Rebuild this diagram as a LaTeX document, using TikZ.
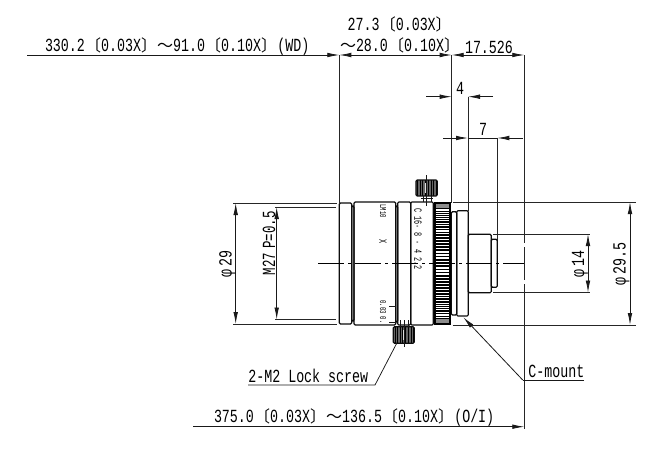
\documentclass[tikz,border=0pt]{standalone}
\usepackage{fontspec}
\usetikzlibrary{arrows.meta}
\newfontfamily\dimfam[FakeStretch=.72]{Liberation Mono}
\newfontfamily\dimnar[FakeStretch=.67]{Liberation Mono}
\newfontfamily\engfam[FakeStretch=.62]{Liberation Mono}
\newfontfamily\cjkf{Noto Sans CJK JP}
\newcommand\cj[1]{{\fontsize{16}{16}\cjkf #1}}
\newcommand\dimf{\fontsize{18.5}{18.5}\dimfam\spaceskip=.1pt\relax}
\newcommand\phif{\fontsize{18.5}{18.5}\dimfam\spaceskip=3pt\relax}
\newcommand\wordf{\fontsize{18.5}{18.5}\dimfam}
\newcommand\narf{\fontsize{18.5}{18.5}\dimnar\spaceskip=4pt\relax}
\newcommand\engA{\fontsize{11}{11}\engfam\spaceskip=4pt\relax}
\newcommand\engB{\fontsize{9}{9}\engfam\spaceskip=2pt\relax}
\tikzset{
  txt/.style={inner sep=0pt,outer sep=0pt,anchor=base west,font=\dimf},
  vtxt/.style={txt,rotate=90},
  eng/.style={inner sep=0pt,outer sep=0pt,rotate=-90,font=\engA},
  engs/.style={inner sep=0pt,outer sep=0pt,rotate=-90,font=\engB},
  dimline/.style={line width=.8pt,black!90},
  extline/.style={line width=.85pt,black!85},
  dimarrow/.style={dimline,-{Latex[length=12pt,width=4.6pt]}},
  dimboth/.style={dimline,{Latex[length=12pt,width=4.6pt]}-{Latex[length=12pt,width=4.6pt]}},
  outline/.style={line width=1.15pt,black!95,rounded corners=1.2pt},
  thin/.style={line width=.75pt,black!90},
  center/.style={line width=.8pt,black,dash pattern=on 26pt off 4pt on 3pt off 4pt}
}
\begin{document}
\begin{tikzpicture}[x=1pt,y=-1pt]
\useasboundingbox (0,0) rectangle (671,471);
% named points
\coordinate (wdl) at (339.3,55);
\coordinate (fl) at (451.7,55);
\coordinate (ir) at (524.3,55);
\coordinate (farl) at (27,55);
\coordinate (fourL) at (451.7,96.7);
\coordinate (fourR) at (468,96.7);
\coordinate (sevL) at (468,138);
\coordinate (sevR) at (497.3,138);
\coordinate (botL) at (193,426.7);
\coordinate (botR) at (524.3,426.7);
% extension lines
\draw[extline] (wdl) -- (339.3,203);
\draw[extline] (fl) -- (451.7,203);
\draw[extline] (fourR) -- (468,211);
\draw[extline] (sevR) -- (497.3,240);
\draw[extline] (ir) -- (524.3,243) (524.3,247) -- (524.3,280) (524.3,284) -- (524.3,428.5);
\draw[extline] (233,203) -- (337,203) (233,324) -- (337,324);
\draw[extline] (275,207) -- (336,207) (275,319.5) -- (336,319.5);
\draw[extline] (452.5,202) -- (636,202) (452.5,325) -- (636,325);
\draw[extline] (493,234) -- (590,234) (493,292.5) -- (590,292.5);
% lens
\draw[outline] (339.3,203) rectangle (351.7,324);
\draw[outline] (351.7,206) rectangle (354,321);
\draw[outline] (354,202) rectangle (395.7,325);
\draw[outline] (395.7,206) rectangle (397.7,322);
\draw[outline] (397.7,202) rectangle (410.7,325);
\draw[outline] (410.7,202) rectangle (433.3,325);
\draw[outline] (451.3,211.7) rectangle (456.7,315);
\draw[outline] (456.7,210.7) rectangle (468.3,316);
\draw[outline] (468.3,234.3) rectangle (491.3,292.7);
\draw[outline] (491.3,239.3) rectangle (497.3,287.3);
% knurled ring
\fill[black] (434,202) rectangle (450,325);
\foreach \a in {-62,-59,...,62}{
  \pgfmathsetmacro\yy{263.5+61.5*sin(\a)}
  \pgfmathsetmacro\ww{1.5*cos(\a)^1.3}
  \draw[white,line width=\ww pt] (435.8,\yy) -- (448.5,\yy);
}
\foreach \a in {-74,-71,...,-65,65,68,...,74}{
  \pgfmathsetmacro\yy{263.5+61.5*sin(\a)}
  \draw[black!45,line width=.8pt] (435.8,\yy) -- (448.5,\yy);
}
\draw[line width=.9pt,black] (450.5,202) -- (450.5,325);
% top knob
\fill[black!60] (416,180) rectangle (437.3,196);
\foreach \v in {417.5,420,422.5,425,428,431,433.5,436}{\draw[black,line width=1pt] (\v,180) -- (\v,196);}
\fill[black!12] (425.3,183) rectangle (427.4,193);
\draw[outline] (416,180) rectangle (437.3,196);
\draw[thin] (423,196) -- (423,202) (431,196) -- (431,202) (421,198.5) -- (433,198.5);
\draw[thin] (426.5,175) -- (426.5,206);
% bottom knob
\fill[black!60] (393.3,326.7) rectangle (414.3,343.3);
\foreach \v in {395,397.5,400,402.5,405.5,408.5,411,413}{\draw[black,line width=1pt] (\v,326.7) -- (\v,343.3);}
\fill[black!12] (402.8,330) rectangle (405,340);
\draw[outline] (393.3,326.7) rectangle (414.3,343.3);
\draw[thin] (400,320) -- (400,326.7) (408,320) -- (408,326.7);
\draw[thin] (404,320) -- (404,347);
% engraving ticks and centre line
\draw[thin] (389,306) -- (395.7,306) (389,322.6) -- (395.7,322.6);
\draw[line width=1.6pt,black!85] (397.7,263.3) -- (410.7,263.3);
\draw[center] (318,263.3) -- (524.3,263.3);
% engraving
\node[eng] (engC) at (418,239) {C 16· 8 · 4 2.2};
\node[engs] (engL) at (383,211) {LM10};
\node[eng] (engX) at (383,242) {X};
\node[engs] (engQ) at (383,307) {0.03};
\node[engs] (engP) at (383,320) {0.};
% dimensions
\draw[dimarrow] (farl) -- (wdl);
\draw[dimboth] (wdl) -- (fl);
\draw[dimboth] (fl) -- (ir);
\draw[dimarrow] (426,96.7) -- (fourL);
\draw[dimarrow] (493,96.7) -- (fourR);
\draw[dimarrow] (443,138) -- (sevL);
\draw[dimarrow] (523,138) -- (sevR);
\draw[dimline] (sevL) -- (sevR);
\draw[dimarrow] (botL) -- (botR);
\draw[dimboth] (235.7,203) -- (235.7,324);
\draw[dimboth] (276.7,207) -- (276.7,319.5);
\draw[dimboth] (588,234) -- (588,292.5);
\draw[dimboth] (630,202) -- (630,325);
% leaders
\coordinate (lockEnd) at (396.7,343.3);
\coordinate (lockKnee) at (375,385);
\coordinate (lockFar) at (248,385);
\draw[thin] (lockFar) -- (lockKnee) -- (lockEnd);
\coordinate (mntTip) at (463.3,317.3);
\coordinate (mntKnee) at (522.7,380);
\coordinate (mntFar) at (584,380);
\draw[dimline] (mntFar) -- (mntKnee);
\draw[dimarrow] (mntKnee) -- (mntTip);
% texts
\node[txt] (tWD) at (45,51.7) {330.2 \cj{〔}0.03X\cj{〕} \cj{～}91.0 \cj{〔}0.10X\cj{〕} (WD)};
\node[txt] (tA) at (347.7,30) {27.3 \cj{〔}0.03X\cj{〕}};
\node[txt] (tB) at (340,51.7) {\cj{～}28.0 \cj{〔}0.10X\cj{〕}};
\node[txt] (tC) at (465,53) {17.526};
\node[txt] (t4) at (456,94) {4};
\node[txt] (t7) at (479,135) {7};
\node[txt] (tOI) at (214,422.3) {375.0 \cj{〔}0.03X\cj{〕} \cj{～}136.5 \cj{〔}0.10X\cj{〕} (O/I)};
\node[txt,font=\wordf] (tLock) at (248.3,382.3) {2-M2 Lock screw};
\node[txt] (tMount) at (528.3,377.3) {C-mount};
\node[vtxt,font=\phif] (tP29) at (231.7,277) {φ 29};
\node[vtxt,font=\narf] (tM27) at (275,275) {M27 P=0.5};
\node[vtxt,font=\phif] (tP14) at (584,277) {φ 14};
\node[vtxt,font=\phif] (tP295) at (625.7,285) {φ 29.5};
\end{tikzpicture}
\end{document}
